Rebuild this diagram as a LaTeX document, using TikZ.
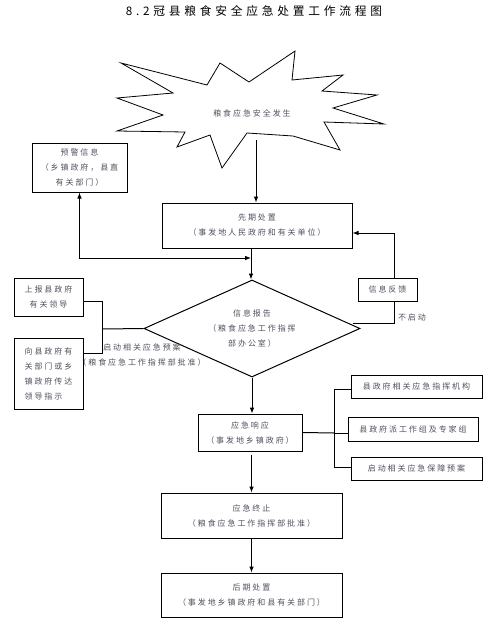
\documentclass[tikz,border=0pt]{standalone}
\usepackage{fontspec}
\setmainfont{Noto Sans CJK SC}
\newfontfamily\cjk[LetterSpace=24]{Noto Sans CJK SC}
\newfontfamily\cjkt[LetterSpace=32]{Noto Sans CJK SC}
\usetikzlibrary{shapes.geometric,arrows.meta,calc}
\definecolor{txt}{RGB}{80,80,95}
\tikzset{
  box/.style={draw, line width=0.75pt, inner sep=0pt, align=center, text=txt},
  lbl/.style={inner sep=0pt, align=center, text=txt},
  conn/.style={line width=0.75pt},
  arr/.style={line width=0.75pt, -{Latex[length=4.5pt,width=3.5pt]}},
  darr/.style={line width=0.75pt, {Latex[length=4.5pt,width=3.5pt]}-{Latex[length=4.5pt,width=3.5pt]}}
}
\begin{document}
\begin{tikzpicture}[x=0.75pt, y=-0.75pt, font={\cjk\fontsize{6pt}{11.25pt}\selectfont}]
\useasboundingbox (0,0) rectangle (492,635);
% title
\node[inner sep=0pt, font={\cjkt\fontsize{8.8pt}{10pt}\selectfont}] (title) at (254,11) {8.2冠县粮食安全应急处置工作流程图};
% starburst
\draw[line width=0.6pt] (121,63) -- (207,85) -- (220,63) -- (249,82) -- (295,51) -- (292,80) -- (343,75) -- (322,91) -- (377,95) -- (333,108) -- (384,124) -- (324,122) -- (340,150) -- (293,136) -- (247,133) -- (222,168) -- (210,135) -- (177,147) -- (185,132) -- (117,131) -- (163,115) -- (117,98) -- (173,93) -- cycle;
\node[lbl] (burst) at (252,113) {粮食应急安全发生};
\coordinate (bs) at (256,140);
% boxes
\node[box, minimum width=71.25pt, minimum height=36.75pt] (yj) at (79.5,167.5) {预警信息\\（乡镇政府，县直\\有关部门）};
\node[box, minimum width=142.5pt, minimum height=33.75pt] (xq) at (257,225.5) {先期处置\\（事发地人民政府和有关单位）};
\node[box, minimum width=51.75pt, minimum height=28.5pt] (sb) at (48.5,297) {上报县政府\\有关领导};
\node[box, minimum width=51.75pt, minimum height=53.25pt, align=left] (xx) at (48.5,373.5) {向县政府有\\关部门或乡\\镇政府传达\\领导指示};
\node[box, minimum width=44.25pt, minimum height=17.25pt] (fk) at (387.5,289.5) {信息反馈};
\node[draw, diamond, line width=0.75pt, inner sep=0pt, minimum width=162pt, minimum height=72.75pt, aspect=2.2, align=center, text=txt] (dia) at (252,328.5) {信息报告\\（粮食应急工作指挥\\部办公室）};
\node[box, minimum width=78pt, minimum height=27.75pt] (yx) at (250,432.5) {应急响应\\（事发地乡镇政府）};
\node[box, minimum width=98.25pt, minimum height=17.25pt] (ba) at (416.5,386.5) {县政府相关应急指挥机构};
\node[box, minimum width=97.5pt, minimum height=18pt] (bb) at (413,429) {县政府派工作组及专家组};
\node[box, minimum width=98.25pt, minimum height=17.25pt] (bc) at (416.5,468.5) {启动相关应急保障预案};
\node[box, minimum width=135.75pt, minimum height=33.75pt] (zz) at (251.5,515.5) {应急终止\\（粮食应急工作指挥部批准）};
\node[box, minimum width=135.75pt, minimum height=33pt] (hq) at (251.5,595) {后期处置\\（事发地乡镇政府和县有关部门）};
% labels
\node[lbl] (qd) at (142,355) {启动相关应急预案\\（粮食应急工作指挥部批准）};
\node[lbl] (bqd) at (412,317) {不启动};
% connectors
\draw[arr] (bs) -- (bs |- xq.north);
\coordinate (j) at (251,258);
\draw[arr] (xq.south -| j) -- (j |- dia.north);
\draw[darr] (yj.south) |- (j);
% feedback loop
\coordinate (dr) at (353,323);
\coordinate (fr) at (394,323);
\draw[conn] (dr) -- (fr) -- (fr |- fk.south);
\coordinate (ft) at (394,233);
\draw[arr] (fr |- fk.north) -- (ft) -- (ft -| xq.east);
% left side
\coordinate (lv) at (102,329);
\draw[conn] (dia.west) -- (lv);
\draw[conn] (sb.east |- 0,301) -| (102,353) -- (xx.east |- 0,353);
% down flow
\draw[arr] (dia.south) -- (dia.south |- yx.north);
\draw[arr] (zz.north |- yx.south) ++(0,3) -- (zz.north);
\draw[arr] (zz.south) -- (hq.north);
% right group
\coordinate (rv) at (334,433);
\draw[conn] (yx.east) -- (rv);
\draw[conn] (ba.west |- 0,389) -| (334,467) -- (bc.west |- 0,467);
\draw[conn] (rv) -- (bb.west |- rv);
\end{tikzpicture}
\end{document}
